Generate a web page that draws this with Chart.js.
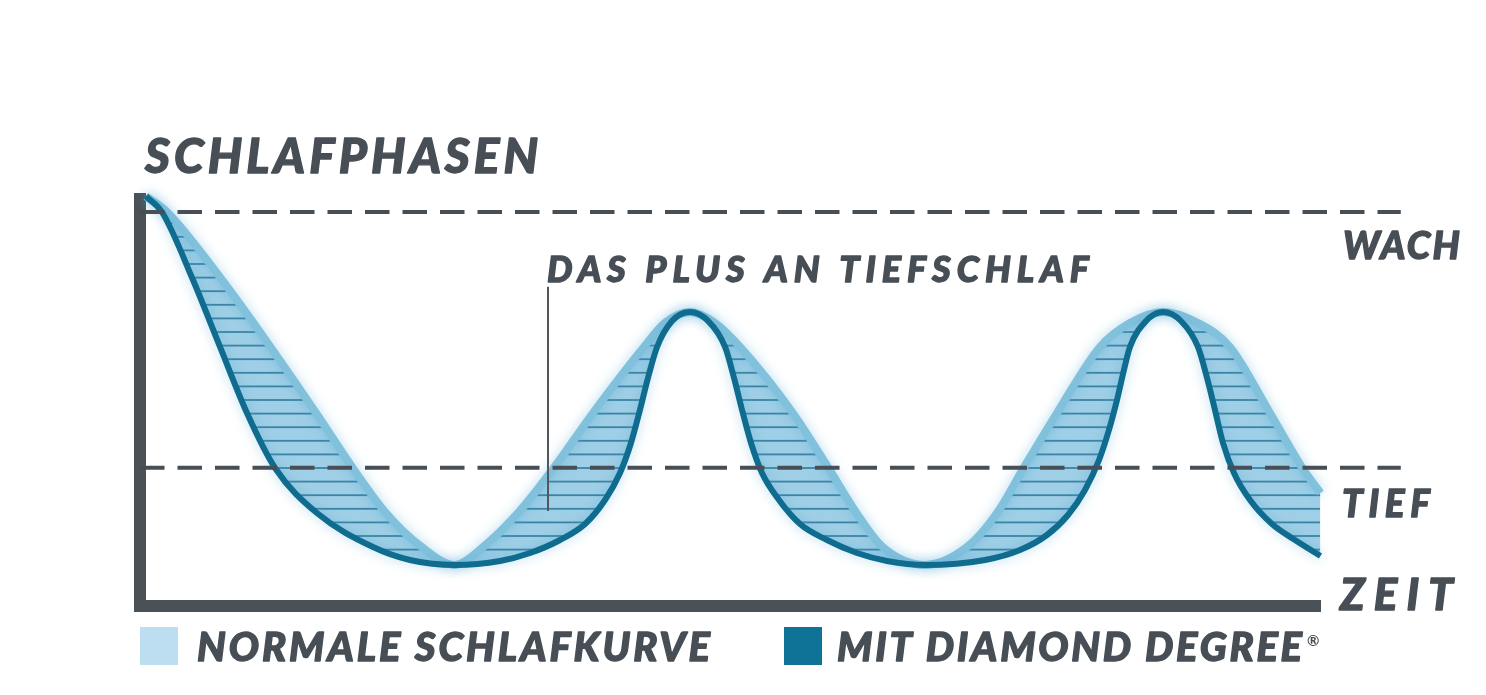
<!DOCTYPE html>
<html>
<head>
<meta charset="utf-8">
<script src="https://cdn.jsdelivr.net/npm/chart.js@4.4.1/dist/chart.umd.min.js"></script>
<style>
  html, body { margin: 0; padding: 0; background: #ffffff; }
  #wrap { position: relative; width: 1486px; height: 695px; }
</style>
</head>
<body>
<div id="wrap"><canvas id="c"></canvas></div>
<script>
// ---------- DATA ----------
// time axis: 0 .. 100 (arbitrary units, left axis to end of curves)
// depth axis: 0 = time axis, 100 = "WACH" level
const timeNormal = [0.5, 2.29, 6.95, 11.05, 14.91, 18.02, 20.84, 23.87, 26.68,
  29.06, 32.02, 34.99, 38.37, 42.69, 44.47, 46.59,
  48.71, 50.83, 55.30, 58.37, 60.69, 62.91, 66.50,
  70.06, 72.60, 74.80, 77.68, 81.32, 83.86, 86.66,
  89.62, 92.33, 95.72, 98.52, 100];
const depthNormal = [104, 100, 82.74, 65.74, 48.98, 35.03, 23.6, 14.97, 10.41,
  14.97, 23.6, 34.77, 48.98, 65.74, 71.83, 74.62,
  71.83, 65.74, 48.98, 34.77, 23.6, 14.97, 10.41,
  14.97, 23.6, 34.77, 48.98, 65.74, 71.83, 74.62,
  71.83, 65.74, 48.98, 34.77, 28.68];

const timeDiamond = [0.5, 1.86, 4.49, 6.78, 9.06, 11.44, 14.99, 19.74, 22.87, 26.68,
  30.50, 33.04, 35.58, 37.70, 39.39, 40.66, 41.59, 42.35, 43.03, 43.80, 45.07, 46.59,
  48.12, 49.56, 50.32, 51.00, 51.76, 52.69, 54.13, 55.91, 58.20, 60.74, 63.28, 66.50,
  71.58, 74.54, 76.83, 78.61, 80.05, 81.24, 82.08, 82.76, 83.35, 83.86, 85.22, 86.66,
  88.18, 89.62, 90.39, 91.06, 91.74, 92.67, 94.03, 95.89, 97.84, 100];
const depthDiamond = [104, 100, 82.74, 65.74, 48.98, 35.03, 23.6, 14.97, 11.68, 10.41,
  11.42, 13.45, 16.75, 20.81, 26.9, 33.76, 41.37, 49.75, 57.87, 65.74, 72.34, 74.62,
  72.34, 65.74, 57.87, 49.75, 41.37, 33.76, 26.9, 20.81, 16.75, 13.45, 11.42, 10.41,
  11.68, 14.21, 18.02, 23.1, 29.44, 37.06, 44.67, 52.28, 59.9, 65.74, 72.34, 74.62,
  72.34, 65.74, 57.87, 49.75, 41.37, 33.76, 26.9, 20.81, 16.75, 12.69];

const levelValues = [100, 35.1];          // WACH, TIEF reference lines
const levelLabels = ['WACH', 'TIEF'];
const levelLineEnd = 106.8;               // dashed lines run past the end of the time axis
const markerTime = 34.56;                 // "DAS PLUS AN TIEFSCHLAF" pointer
const markerRange = [81.0, 24.1];

const seriesNames = ['NORMALE SCHLAFKURVE', 'MIT DIAMOND DEGREE'];
const yTitle = 'SCHLAFPHASEN';
const xTitle = 'ZEIT';
const annotationText = 'DAS PLUS AN TIEFSCHLAF';

// ---------- helpers ----------
const TEXT = '#474e55';
function pts(xs, ys) { return xs.map((x, i) => ({ x: x, y: ys[i] })); }

function makeStripePattern() {
  const p = document.createElement('canvas');
  p.width = 8; p.height = 68;
  const g = p.getContext('2d');
  g.fillStyle = '#9fcfe6';
  g.fillRect(0, 0, 8, 68);
  g.fillStyle = '#3a84a5';
  [5.6, 19.2, 32.8, 46.4, 60.0].forEach(c => g.fillRect(0, c - 0.9, 8, 1.8));
  return g.createPattern(p, 'repeat');
}

function spacedText(ctx, text, x, baseline, width, size) {
  ctx.font = 'italic 900 ' + size + 'px Lato, "Open Sans", sans-serif';
  ctx.strokeStyle = TEXT;
  ctx.lineWidth = 1.3;
  ctx.lineJoin = 'round';
  const hasLS = ('letterSpacing' in ctx);
  if (hasLS) ctx.letterSpacing = '0px';
  const w = ctx.measureText(text).width;
  const s = (width - w) / (text.length - 1);
  if (hasLS) {
    ctx.letterSpacing = s + 'px';
    ctx.fillText(text, x, baseline);
    ctx.strokeText(text, x, baseline);
    ctx.letterSpacing = '0px';
  } else {
    let cx = x;
    for (const ch of text) { ctx.fillText(ch, cx, baseline); ctx.strokeText(ch, cx, baseline); cx += ctx.measureText(ch).width + s; }
  }
}

const glowPlugin = {
  id: 'glow',
  beforeDatasetDraw(chart, args) {
    const ds = chart.data.datasets[args.index];
    if (ds.glow) { const c = chart.ctx; c.save(); c.shadowColor = ds.glow; c.shadowBlur = 12; }
  },
  afterDatasetDraw(chart, args) {
    if (chart.data.datasets[args.index].glow) chart.ctx.restore();
  }
};

const textPlugin = {
  id: 'texts',
  afterDraw(chart) {
    const ctx = chart.ctx;
    const ys = chart.scales.y;
    ctx.save();
    ctx.fillStyle = TEXT;
    ctx.textBaseline = 'alphabetic';
    ctx.textAlign = 'left';
    // axis titles
    spacedText(ctx, yTitle, 145, 173, 393, 48);
    spacedText(ctx, xTitle, 1340, 610, 113, 44);
    // level labels
    const wachY = ys.getPixelForValue(levelValues[0]);
    const tiefY = ys.getPixelForValue(levelValues[1]);
    spacedText(ctx, levelLabels[0], 1343, wachY + 47, 117, 38);
    spacedText(ctx, levelLabels[1], 1342, tiefY + 49, 88, 37);
    // annotation
    spacedText(ctx, annotationText, 547, 282, 542, 36);
    // legend
    ctx.fillStyle = '#bddef0';
    ctx.fillRect(140, 627, 38, 38);
    ctx.fillStyle = '#0f7398';
    ctx.fillRect(784, 627, 38, 38);
    ctx.fillStyle = TEXT;
    spacedText(ctx, seriesNames[0], 197, 661, 513, 40);
    spacedText(ctx, seriesNames[1], 837, 661, 465, 40);
    ctx.font = '700 15px Lato, "Open Sans", sans-serif';
    ctx.fillText('®', 1307, 646);
    ctx.restore();
  }
};

const stripes = makeStripePattern();

const levelDatasets = levelValues.map((v, i) => ({
  label: levelLabels[i],
  data: [{ x: 0, y: v }, { x: levelLineEnd, y: v }],
  borderColor: '#474e55',
  borderWidth: 4,
  borderDash: [24.5, 13],
  pointRadius: 0,
  fill: false,
  clip: false,
  order: 1
}));

new Chart(document.getElementById('c'), {
  type: 'line',
  data: {
    datasets: [
      {
        label: seriesNames[0],
        data: pts(timeNormal, depthNormal),
        borderColor: '#82c1dc',
        borderWidth: 8,
        backgroundColor: stripes,
        fill: { target: '+1' },
        cubicInterpolationMode: 'monotone',
        pointRadius: 0,
        clip: false,
        glow: 'rgba(70,160,210,0.4)',
        order: 3
      },
      {
        label: seriesNames[1],
        data: pts(timeDiamond, depthDiamond),
        borderColor: '#0f6c8e',
        borderWidth: 6,
        fill: false,
        cubicInterpolationMode: 'monotone',
        pointRadius: 0,
        clip: false,
        glow: 'rgba(70,160,210,0.4)',
        order: 2
      },
      ...levelDatasets,
      {
        label: annotationText,
        data: [{ x: markerTime, y: markerRange[0] }, { x: markerTime, y: markerRange[1] }],
        borderColor: '#50575d',
        borderWidth: 2,
        pointRadius: 0,
        fill: false,
        order: 0
      }
    ]
  },
  options: {
    responsive: true,
    maintainAspectRatio: false,
    devicePixelRatio: 1,
    animation: false,
    events: [],
    layout: { padding: { left: 140, top: 199, right: 165.5, bottom: 89 } },
    plugins: { legend: { display: false }, tooltip: { enabled: false }, title: { display: false } },
    scales: {
      x: {
        type: 'linear', min: 0, max: 100,
        grid: { display: false, drawTicks: false },
        ticks: { display: false },
        border: { display: true, width: 12, color: '#4a5157' }
      },
      y: {
        type: 'linear', min: 0, max: 103.3,
        grid: { display: false, drawTicks: false },
        ticks: { display: false },
        border: { display: true, width: 12, color: '#4a5157' }
      }
    }
  },
  plugins: [glowPlugin, textPlugin]
});
</script>
</body>
</html>
